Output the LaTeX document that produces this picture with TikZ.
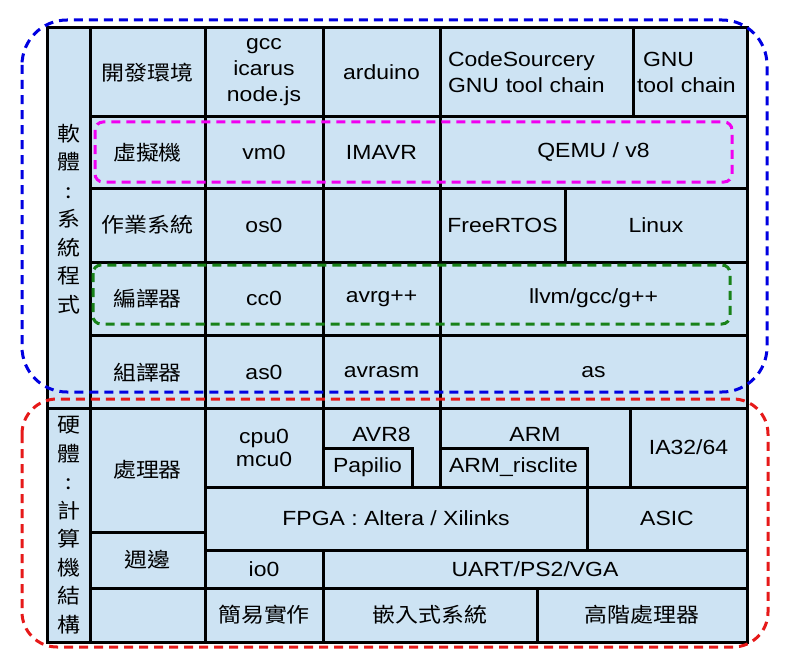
\documentclass[tikz,border=0pt]{standalone}
\usepackage{fontspec}
\setmainfont[FakeStretch=1.12]{Liberation Sans}
\newfontfamily\cjk[FakeStretch=1.12]{Noto Sans CJK TC}

\definecolor{fondcase}{RGB}{205,227,243}
\definecolor{bleucadre}{RGB}{0,0,225}
\definecolor{rougecadre}{RGB}{230,25,25}
\definecolor{rosecadre}{RGB}{240,0,240}
\definecolor{vertcadre}{RGB}{25,130,25}

\tikzset{
    txt/.style={font=\fontsize{20.5bp}{26bp}\selectfont},
    zh/.style={font=\cjk\fontsize{20.5bp}{28.5bp}\selectfont},
    % case : coin haut gauche (#1,#2), coin bas droit (#3,#4)
    case/.style n args={4}{txt,draw=black,line width=3bp,fill=fondcase,inner sep=0pt,align=center,
        at={({(#1+#3)/2},{(#2+#4)/2})},minimum width={(#3-#1)*1bp},minimum height={(#4-#2)*1bp}},
    cadre/.style={line width=3bp,dash pattern=on 9bp off 6bp}
}

\begin{document}
\begin{tikzpicture}[x=1bp,y=-1bp]
    \useasboundingbox (0,0) rectangle (789,665);

    % Colonne de gauche : logiciel
    \node[case={47}{28}{90}{410},zh] (logiciel) {軟\\體\\:\\系\\統\\程\\式};

    % Ligne 1 : environnement
    \node[case={90}{28}{205}{117},zh] (devenv) {開發環境};
    \node[case={205}{28}{323}{117}] (gcc) {gcc\\icarus\\node.js};
    \node[case={323}{28}{440}{117}] (arduino) {arduino};
    \node[case={440}{28}{633}{117},text width=177bp,align=left] (codesourcery) {CodeSourcery\\GNU tool chain};
    \node[case={633}{28}{747}{117},text width=106bp,align=left] (gnu) {\hspace*{6bp}GNU\\tool chain};

    % Ligne 2 : machine virtuelle
    \node[case={90}{117}{205}{188},zh] (vm) {虛擬機};
    \node[case={205}{117}{323}{188}] (vmzero) {vm0};
    \node[case={323}{117}{440}{188}] (imavr) {IMAVR};
    \node[case={440}{117}{747}{188}] (qemu) {QEMU / v8};

    % Ligne 3 : systeme d'exploitation
    \node[case={90}{188}{205}{262},zh] (os) {作業系統};
    \node[case={205}{188}{323}{262}] (oszero) {os0};
    \node[case={323}{188}{440}{262}] (osvide) {};
    \node[case={440}{188}{565}{262}] (freertos) {FreeRTOS};
    \node[case={565}{188}{747}{262}] (linux) {Linux};

    % Ligne 4 : compilateur
    \node[case={90}{262}{205}{335},zh] (compilo) {編譯器};
    \node[case={205}{262}{323}{335}] (cczero) {cc0};
    \node[case={323}{262}{440}{335}] (avrgpp) {avrg++};
    \node[case={440}{262}{747}{335}] (llvm) {llvm/gcc/g++};

    % Ligne 5 : assembleur
    \node[case={90}{335}{205}{410},zh] (assembleur) {組譯器};
    \node[case={205}{335}{323}{410}] (aszero) {as0};
    \node[case={323}{335}{440}{410}] (avrasm) {avrasm};
    \node[case={440}{335}{747}{410}] (as) {as};

    % Colonne de gauche : materiel
    \node[case={47}{408}{90}{642},zh] (materiel) {硬\\體\\:\\計\\算\\機\\結\\構};
    \node[case={90}{408}{205}{532},zh] (processeur) {處理器};
    \node[case={90}{532}{205}{588},zh] (peripherique) {週邊};
    \node[case={90}{588}{205}{642}] (matvide) {};

    % Processeurs
    \node[case={205}{408}{323}{487},font=\fontsize{20.5bp}{23bp}\selectfont] (cpuzero) {cpu0\\mcu0};
    \node[case={323}{408}{440}{487}] (avr) {};
    \node[txt,anchor=base] (avrtxt) at ([yshift=-35bp]avr.north) {AVR8};
    \node[case={323}{448}{412}{487}] (papilio) {Papilio};
    \node[case={440}{408}{630}{487}] (arm) {};
    \node[txt,anchor=base] (armtxt) at ([yshift=-35bp]arm.north) {ARM};
    \node[case={440}{448}{587}{487}] (armrisclite) {ARM\_risclite};
    \node[case={630}{408}{747}{487}] (ia) {IA32/64};

    % FPGA, ASIC
    \node[case={205}{487}{587}{550}] (fpga) {FPGA : Altera / Xilinks};
    \node[case={587}{487}{747}{550}] (asic) {ASIC};

    % Entrees / sorties
    \node[case={205}{550}{323}{588}] (iozero) {io0};
    \node[case={323}{550}{747}{588}] (uart) {UART/PS2/VGA};

    % Derniere ligne
    \node[case={205}{588}{323}{642},zh] (simple) {簡易實作};
    \node[case={323}{588}{537}{642},zh] (embarque) {嵌入式系統};
    \node[case={537}{588}{747}{642},zh] (hautniveau) {高階處理器};

    % Cadres en pointilles
    \draw[cadre,bleucadre,rounded corners=45bp] (22,20) rectangle (767,392);
    \draw[cadre,rougecadre,rounded corners=35bp] (22,399) rectangle (768,647);
    \draw[cadre,rosecadre,rounded corners=8bp] (95,122) rectangle (732,182);
    \draw[cadre,vertcadre,rounded corners=8bp] (93,265) rectangle (730,324);
\end{tikzpicture}
\end{document}
